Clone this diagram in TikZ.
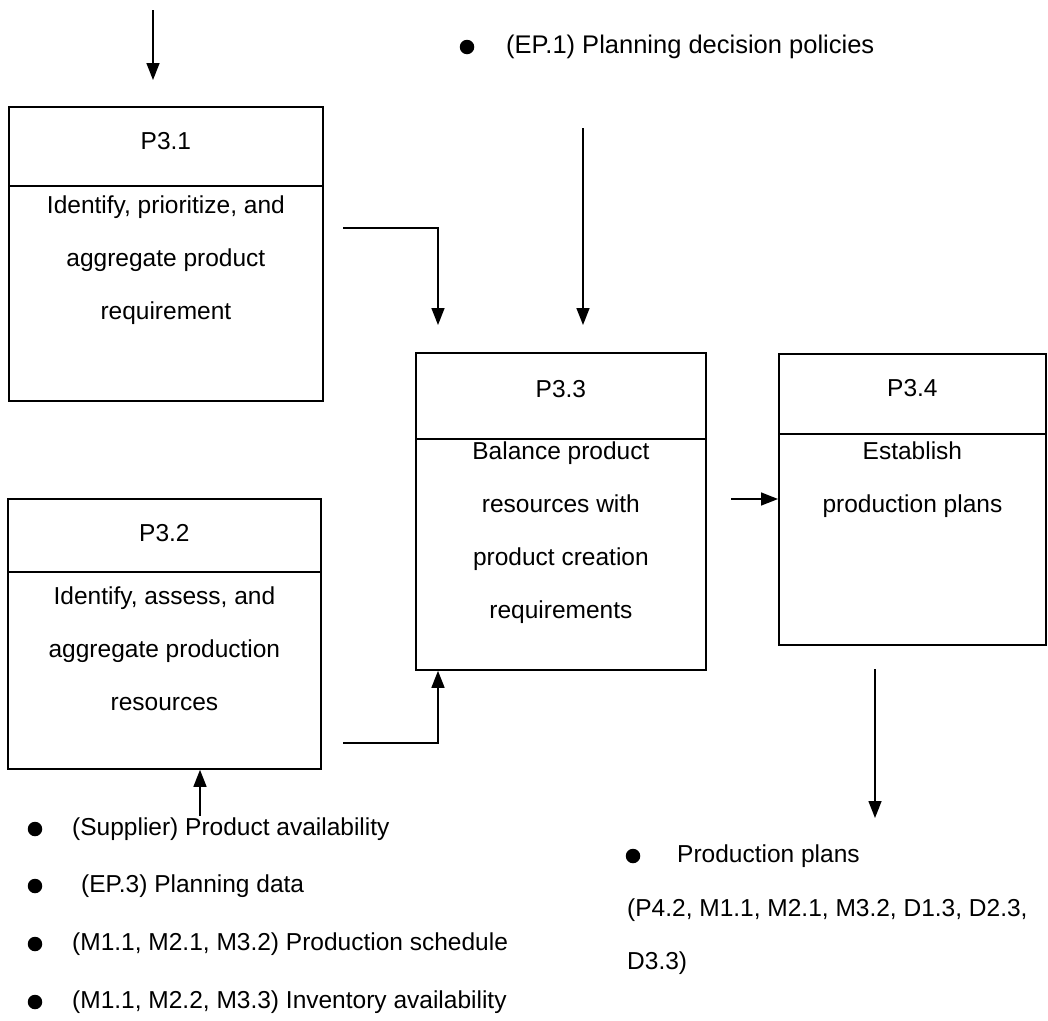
\documentclass[tikz,border=0pt]{standalone}
\usepackage{fontspec}
\setmainfont{Liberation Sans}
\usetikzlibrary{arrows.meta,calc}
\begin{document}
\begin{tikzpicture}[x=1pt,y=-1pt,
  cell/.style={draw, line width=1.8pt, inner sep=0pt, anchor=north west},
  ptitle/.style={font=\fontsize{24.5}{29}\selectfont, inner sep=0pt},
  ptext/.style={font=\fontsize{24.5}{53}\selectfont, align=center, inner sep=0pt, anchor=north},
  flow/.style={line width=1.5pt, -{Triangle[length=17pt,width=13pt]}},
  dot/.style={circle, fill, inner sep=0pt, minimum size=14.5pt},
  note/.style={font=\fontsize{24.5}{29}\selectfont, inner sep=0pt, anchor=west}]
\useasboundingbox[fill=white] (0,0) rectangle (1048,1020);

% P3.1
\node[cell, minimum width=314pt, minimum height=79pt] (h31) at (8,106) {};
\node[cell, minimum width=314pt, minimum height=215pt] (b31) at (8,185) {};
\node[ptitle] (t31) at ($(h31.center)+(0,-5.5)$) {P3.1};
\node[ptext] (x31) at ($(b31.north)+(0,10.5)$) {Identify, prioritize, and\\aggregate product\\requirement};

% P3.2
\node[cell, minimum width=313pt, minimum height=73pt] (h32) at (7,498) {};
\node[cell, minimum width=313pt, minimum height=197pt] (b32) at (7,571) {};
\node[ptitle] (t32) at ($(h32.center)+(0,-2.5)$) {P3.2};
\node[ptext] (x32) at ($(b32.north)+(0,15.5)$) {Identify, assess, and\\aggregate production\\resources};

% P3.3
\node[cell, minimum width=290pt, minimum height=86pt] (h33) at (415,352) {};
\node[cell, minimum width=290pt, minimum height=231pt] (b33) at (415,438) {};
\node[ptitle] (t33) at ($(h33.center)+(0,-7)$) {P3.3};
\node[ptext] (x33) at ($(b33.north)+(0,3.5)$) {Balance product\\resources with\\product creation\\requirements};

% P3.4
\node[cell, minimum width=267pt, minimum height=80pt] (h34) at (778,353) {};
\node[cell, minimum width=267pt, minimum height=211pt] (b34) at (778,433) {};
\node[ptitle] (t34) at ($(h34.center)+(0,-6)$) {P3.4};
\node[ptext] (x34) at ($(b34.north)+(0,8.5)$) {Establish\\production plans};

% inputs and outputs
\node[dot] (d1) at (467,47) {};
\node[note, font=\fontsize{25.5}{30}\selectfont] (n1) at (506,47) {(EP.1) Planning decision policies};

\node[dot] (d2) at (35,829) {};
\node[note] (n2) at (72,829) {(Supplier) Product availability};
\node[dot] (d3) at (35,886) {};
\node[note] (n3) at (81,886) {(EP.3) Planning data};
\node[dot] (d4) at (35,944) {};
\node[note] (n4) at (72,944) {(M1.1, M2.1, M3.2) Production schedule};
\node[dot] (d5) at (35,1002) {};
\node[note] (n5) at (72,1002) {(M1.1, M2.2, M3.3) Inventory availability};

\node[dot] (d6) at (633,856) {};
\node[note] (n6) at (677,856) {Production plans};
\node[note] (n7) at (627,910) {(P4.2, M1.1, M2.1, M3.2, D1.3, D2.3,};
\node[note] (n8) at (627,963) {D3.3)};

% connector end points
\coordinate (c1a) at (153,10);
\coordinate (c1b) at (153,80);
\coordinate (c2a) at (343,228);
\coordinate (c2b) at (438,325);
\coordinate (c3a) at (583,128);
\coordinate (c3b) at (583,325);
\coordinate (c4a) at (343,743);
\coordinate (c5a) at (731,499);
\coordinate (c6a) at (200,816);
\coordinate (c7a) at (875,669);
\coordinate (c7b) at (875,818);

\draw[flow] (c1a) -- (c1b);
\draw[flow] (c2a) -| (c2b);
\draw[flow] (c3a) -- (c3b);
\draw[flow] (c4a) -| (b33.south -| c2b);
\draw[flow] (c5a) -- (c5a -| b34.west);
\draw[flow] (c6a) -- (c6a |- b32.south);
\draw[flow] (c7a) -- (c7b);
\end{tikzpicture}
\end{document}
